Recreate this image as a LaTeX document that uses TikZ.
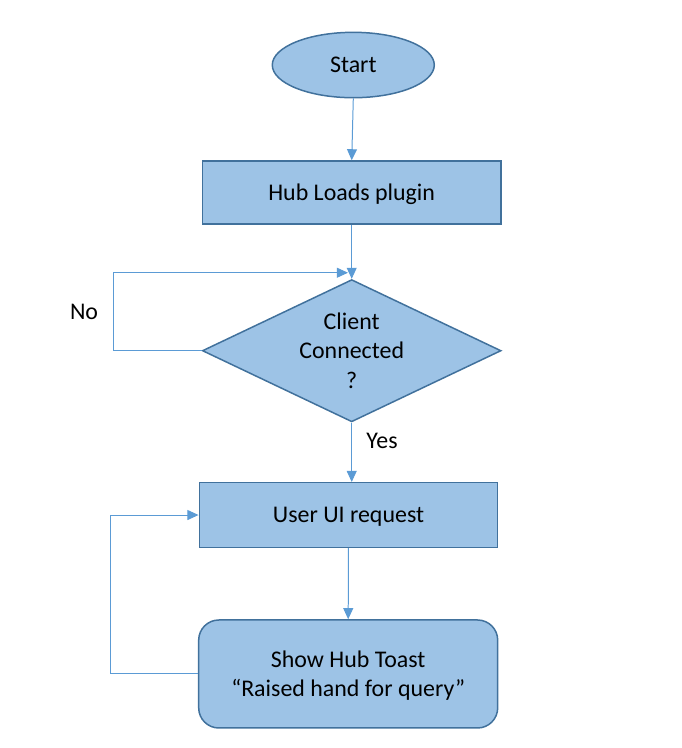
\documentclass[tikz,border=0pt]{standalone}
\usepackage{fontspec}
\setmainfont{Carlito}
\usepackage{tikz}
\usetikzlibrary{shapes.geometric,arrows.meta}
\tikzset{>={Triangle[width=3.5mm,length=3.9mm]}}
\tikzset{
  flowbox/.style={draw={rgb,255:red,65;green,113;blue,156},line width=1.5pt,fill={rgb,255:red,157;green,195;blue,230},align=center,inner sep=0pt},
  flowline/.style={->,color={rgb,255:red,91;green,155;blue,213},line width=1pt}
}
\begin{document}
\begin{tikzpicture}[font=\fontsize{24}{29.5}\selectfont]

\useasboundingbox (0in,0in) rectangle (9.472in,-10.389in);

\path (4.907in,-0.903in) node (start) [flowbox,shape=ellipse,minimum width=2.25in,minimum height=0.908in]{Start};

\path (4.885in,-2.674in) node (hub) [flowbox,shape=rectangle,text depth=0pt,minimum width=4.149in,minimum height=0.875in]{Hub Loads plugin};

\path (4.885in,-4.871in) node (client) [flowbox,shape=diamond,aspect=2.1,minimum width=4.149in,minimum height=1.976in]{Client\\Connected\\?};

\path (4.833in,-3.788in) coordinate (noin);

\path (4.840in,-7.153in) node (user) [flowbox,shape=rectangle,text depth=0pt,minimum width=4.144in,minimum height=0.897in]{User UI request};

\path (4.836in,-9.361in) node (toast) [flowbox,shape=rectangle,rounded corners=0.28in,text depth=0pt,minimum width=4.153in,minimum height=1.5in]{Show Hub Toast\\“Raised hand for query”};

\path (1.167in,-4.333in) node (nolbl) {No};

\path (5.306in,-6.125in) node (yeslbl) {Yes};

\draw [flowline] (start.south) -- (hub.north);
\draw [flowline] (hub.south) -- (client.north);
\draw [flowline] (client.west) -- ++(-1.227in,0) |- (noin);
\draw [flowline] (client.south) -- (client.south |- user.north);
\draw [flowline] (user.south) -- (toast.north);
\draw [flowline] (toast.west) -- ++(-1.209in,0) |- (user.west);

\end{tikzpicture}
\end{document}
